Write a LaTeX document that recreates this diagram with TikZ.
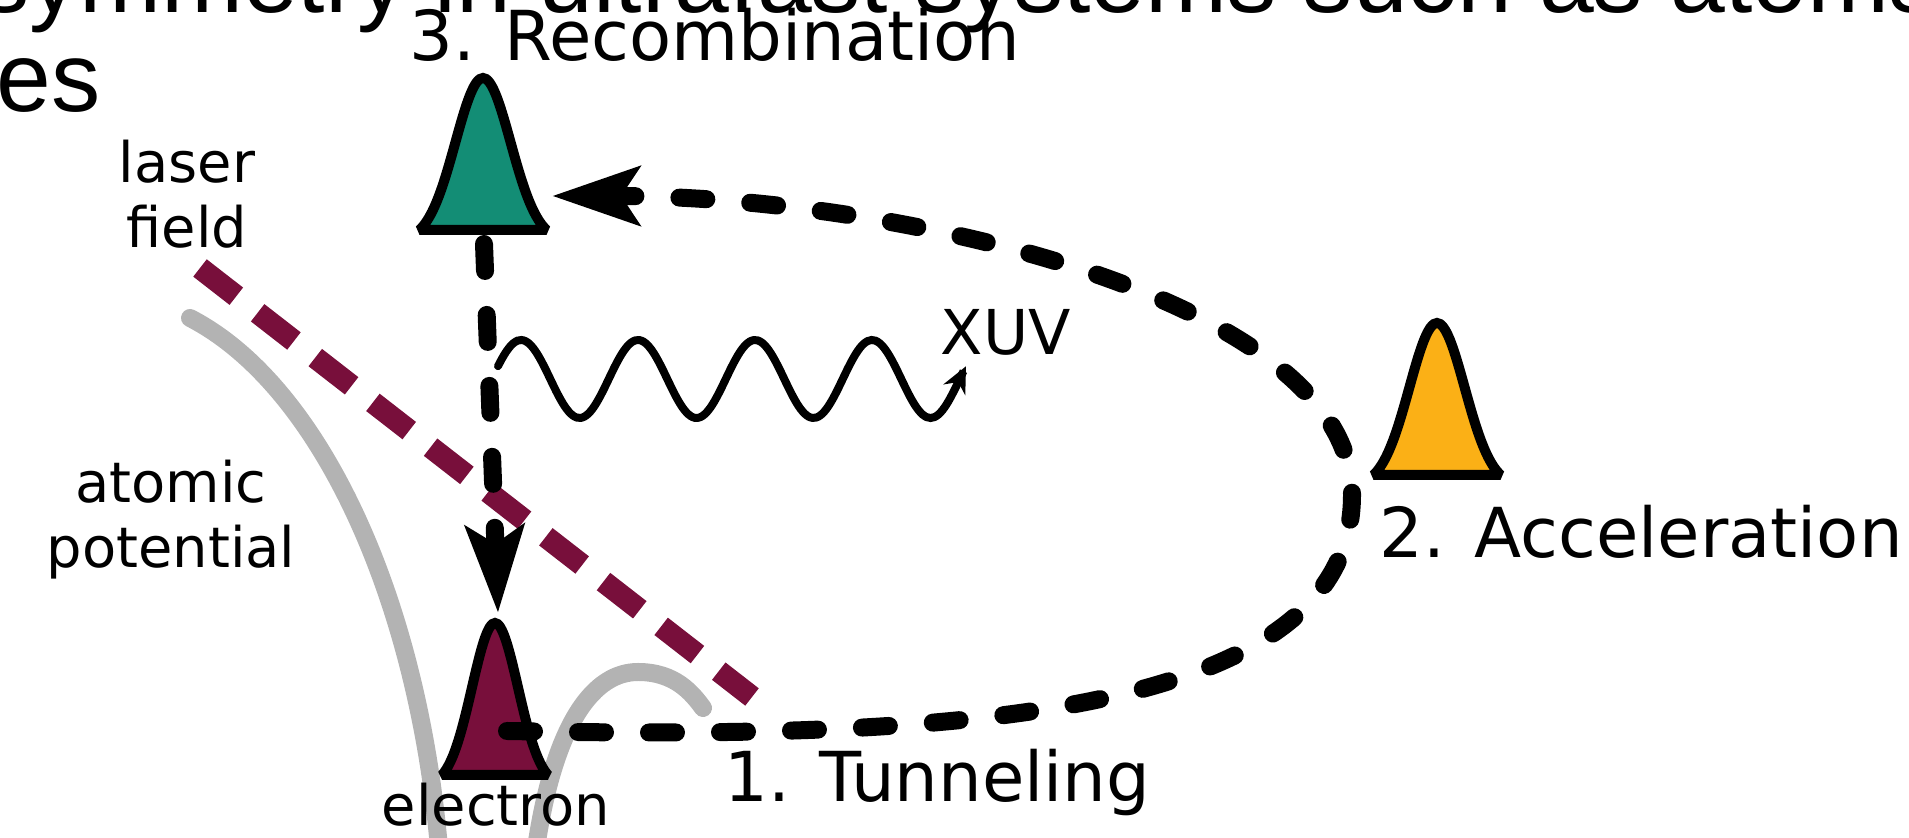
\documentclass[tikz,border=0pt]{standalone}
\usepackage{fontspec}
\setmainfont{DejaVu Sans}
\newfontfamily\slidefont{Liberation Sans}
\usetikzlibrary{arrows.meta}
\definecolor{packetgreen}{HTML}{138D75}
\definecolor{packetorange}{HTML}{FBB016}
\definecolor{wine}{HTML}{780F3B}
\definecolor{wellgray}{HTML}{B3B3B3}
\tikzset{
  orbit/.style={draw=black, line width=0.18cm, line cap=round, dash pattern=on 0.27cm off 0.44cm},
  laserbeam/.style={draw=wine, line width=0.22cm, dash pattern=on 0.46cm off 0.27cm},
  well/.style={draw=wellgray, line width=0.18cm, line cap=round},
  photon/.style={draw=black, line width=0.08cm, line cap=round},
  steplab/.style={font=\fontsize{19.6}{23}\selectfont, inner sep=0pt, anchor=base west},
  sidelab/.style={font=\fontsize{15.9}{18.5}\selectfont, inner sep=0pt, align=center, anchor=base},
  slide/.style={font=\slidefont\fontsize{28}{31}\selectfont, inner sep=0pt, anchor=base west},
  bigtip/.tip={Stealth[length=0.87cm, width=0.58cm, inset=0.18cm]},
  pics/packet/.style={code={
    \draw[draw=black, line width=0.1cm, miter limit=2, pic actions]
      plot[domain=-2.3:2.3, samples=41, smooth] ({#1*\x}, {1.52*(exp(-0.5*(\x)*(\x))-0.071)/0.929}) -- cycle;
  }},
}

\begin{document}
\begin{tikzpicture}
  \useasboundingbox (0,0) rectangle (19.09,8.38);
  \clip (0,0) rectangle (19.09,8.38);

  % slide text running behind the top
  \node[slide] (slideA) at (-0.20,8.25) {symmetry in ultrafast systems such as atoms};
  \node[slide] (slideB) at (-0.04,7.26) {es};

  % where the packets sit
  \coordinate (core) at (4.95,0.63);
  \coordinate (drive) at (14.37,3.63);
  \coordinate (recomb) at (4.83,6.08);

  % atomic potential bent by the field
  \draw[well] (1.90,5.20) .. controls (3.20,4.53) and (4.20,2.38) .. (4.40,-0.22);
  \draw[well] (5.36,-0.10) .. controls (5.55,1.18) and (5.95,1.66) .. (6.38,1.66)
    .. controls (6.75,1.66) and (6.92,1.45) .. (7.03,1.30);

  % laser field
  \coordinate (beamtop) at (2.00,5.70);
  \coordinate (beamend) at (7.52,1.41);
  \draw[laserbeam] (beamtop) -- (beamend);

  % wave packets
  \pic[fill=wine] at (core) {packet=0.23};
  \pic[fill=packetorange] at (drive) {packet=0.276};
  \pic[fill=packetgreen] at (recomb) {packet=0.276};

  % emitted XUV
  \draw[photon, -{Stealth[length=0.26cm, width=0.24cm]}]
    plot[domain=4.98:9.66, samples=120, smooth] (\x, {4.59+0.39*cos(360*(\x-5.21)/1.17)});

  % electron trajectory
  \coordinate (exit) at (5.07,1.07);
  \coordinate (turn) at (13.52,3.43);
  \coordinate (arrive) at (5.52,6.42);
  \draw[orbit, -bigtip] (exit) .. controls (9.00,1.00) and (13.52,1.08) .. (turn)
    .. controls (13.52,5.38) and (9.00,6.42) .. (arrive);
  \coordinate (fall) at (4.84,5.94);
  \coordinate (land) at (4.98,2.25);
  \draw[orbit, -bigtip] (fall) -- (land);

  % labels
  \node[steplab] (tunnel) at (7.24,0.36) {1. Tunneling};
  \node[steplab] (accel) at (13.79,2.80) {2. Acceleration};
  \node[steplab] (recombine) at (4.09,7.77) {3. Recombination};
  \node[steplab, font=\fontsize{17.6}{21}\selectfont] (xuv) at (9.40,4.83) {XUV};
  \node[sidelab] (laser) at (1.87,5.90) {laser\\field};
  \node[sidelab] (potential) at (1.71,2.70) {atomic\\potential};
  \node[sidelab] (electron) at (4.96,0.12) {electron};
\end{tikzpicture}
\end{document}
